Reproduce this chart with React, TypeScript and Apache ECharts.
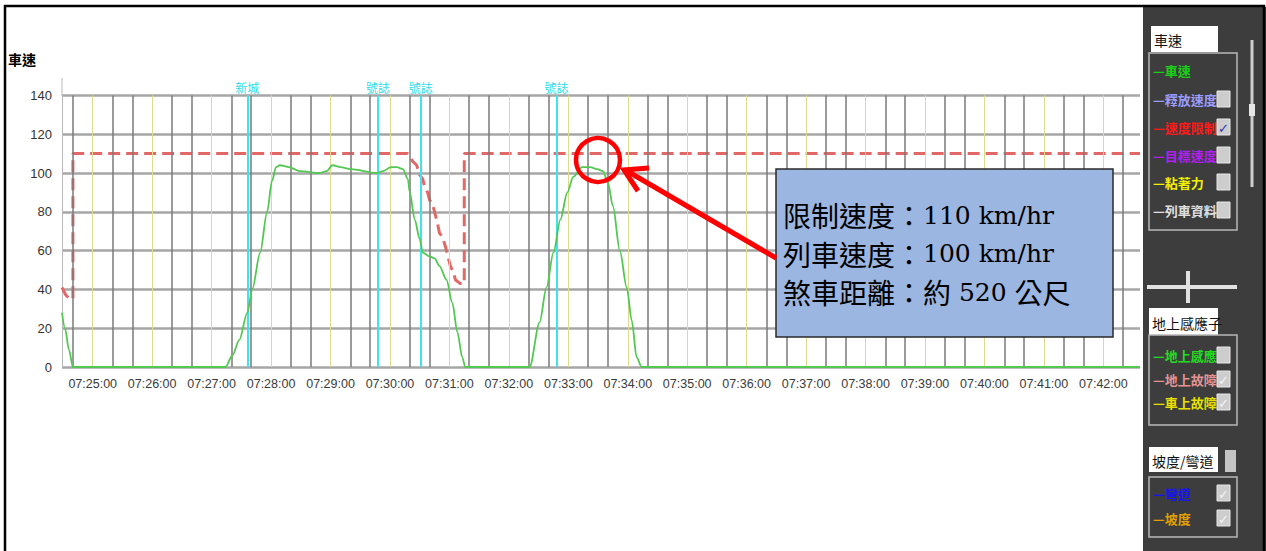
import React, { useEffect, useRef } from "react";
import * as echarts from "echarts";

// ---------- data ----------
const axisStart = "07:24:29";
const axisEnd = "07:42:37";
const gridStart = "07:24:40";
const gridStepSeconds = 20;
const xTickLabels = [
  "07:25:00", "07:26:00", "07:27:00", "07:28:00", "07:29:00", "07:30:00",
  "07:31:00", "07:32:00", "07:33:00", "07:34:00", "07:35:00", "07:36:00",
  "07:37:00", "07:38:00", "07:39:00", "07:40:00", "07:41:00", "07:42:00",
];
const yMin = 0;
const yMax = 140;
const yStep = 20;

// 車速 (train speed, km/h)
const trainSpeed: [string, number][] = [
  ["07:24:29", 28], ["07:24:32", 20], ["07:24:36", 9], ["07:24:40", 0],
  ["07:27:14", 0], ["07:27:21", 6], ["07:27:28", 14], ["07:27:36", 28],
  ["07:27:41", 40], ["07:27:49", 59], ["07:27:56", 80], ["07:28:01", 96],
  ["07:28:05", 103], ["07:28:09", 104], ["07:28:18", 103], ["07:28:29", 101],
  ["07:28:49", 100], ["07:28:56", 101], ["07:29:02", 104], ["07:29:10", 103],
  ["07:29:20", 102], ["07:29:47", 100], ["07:29:53", 101], ["07:30:01", 103],
  ["07:30:07", 103], ["07:30:13", 102], ["07:30:18", 97], ["07:30:20", 90],
  ["07:30:25", 76], ["07:30:30", 66], ["07:30:33", 59], ["07:30:40", 57],
  ["07:30:45", 56], ["07:30:50", 52], ["07:30:57", 45], ["07:31:03", 33],
  ["07:31:08", 18], ["07:31:13", 5], ["07:31:16", 0], ["07:32:21", 0],
  ["07:32:31", 23], ["07:32:38", 41], ["07:32:45", 59], ["07:32:52", 76],
  ["07:32:59", 90], ["07:33:05", 98], ["07:33:14", 103], ["07:33:22", 103],
  ["07:33:29", 102], ["07:33:35", 101], ["07:33:40", 95], ["07:33:45", 83],
  ["07:33:52", 60], ["07:33:59", 41], ["07:34:04", 24], ["07:34:09", 5],
  ["07:34:14", 0], ["07:42:37", 0],
];

// 速度限制 (speed limit, km/h)
const speedLimit: [string, number][] = [
  ["07:24:29", 41], ["07:24:33", 37], ["07:24:37", 35], ["07:24:40", 35],
  ["07:24:40", 110], ["07:30:18", 110], ["07:30:23", 106], ["07:30:27", 104],
  ["07:30:30", 99], ["07:30:33", 97], ["07:30:35", 93], ["07:30:38", 90],
  ["07:30:40", 86], ["07:30:43", 84], ["07:30:45", 80], ["07:30:48", 74],
  ["07:30:50", 69], ["07:30:53", 67], ["07:30:56", 62], ["07:30:58", 58],
  ["07:31:01", 52], ["07:31:04", 49], ["07:31:06", 45], ["07:31:11", 43],
  ["07:31:15", 43], ["07:31:15", 110], ["07:42:37", 110],
];

// cyan event markers
const markerTimes = ["07:27:36", "07:29:48", "07:30:31", "07:32:48"];
const markerNames = ["新城", "號誌", "號誌", "號誌"];

// annotation
const noteLines = ["限制速度：110 km/hr", "列車速度：100 km/hr", "煞車距離：約 520 公尺"];

// side panel
const panelTitle1 = "車速";
const panelSpeedItems = ["車速", "釋放速度", "速度限制", "目標速度", "粘著力", "列車資料"];
const panelSpeedChecked = [null, false, true, false, false, false];
const panelTitle2 = "地上感應子";
const panelBaliseItems = ["地上感應子", "地上故障", "車上故障"];
const panelBaliseChecked = [false, true, true];
const panelTitle3 = "坡度/彎道";
const panelGradeItems = ["彎道", "坡度"];
const panelGradeChecked = [true, true];
const yAxisTitle = "車速";

// ---------- helpers ----------
const toSec = (t: string) => {
  const [h, m, s] = t.split(":").map(Number);
  return h * 3600 + m * 60 + s;
};
const pad = (n: number) => String(n).padStart(2, "0");
const fmtSec = (v: number) => {
  const h = Math.floor(v / 3600);
  const m = Math.floor((v % 3600) / 60);
  const s = Math.round(v % 60);
  return `${pad(h)}:${pad(m)}:${pad(s)}`;
};
// split a string into CJK / Latin runs for rich text
const toRich = (s: string) =>
  (s.match(/[\u0000-\u007f]+|[^\u0000-\u007f]+/g) || [])
    .map((run) => (/^[\u0000-\u007f]+$/.test(run) ? `{l|${run}}` : `{c|${run}}`))
    .join("");

const LABEL_FONT = "'Liberation Sans', Arial, sans-serif";
const CJK = "'Noto Sans CJK TC', 'Noto Sans CJK SC', sans-serif";

export default function App() {
  const ref = useRef<HTMLDivElement>(null);

  useEffect(() => {
    if (!ref.current) return;
    const chart = echarts.init(ref.current, null, { renderer: "svg" });

    const xMin = toSec(axisStart);
    const xMax = toSec(axisEnd);
    const minuteValues = xTickLabels.map(toSec);
    const verticalGrid: number[] = [];
    for (let v = toSec(gridStart); v <= xMax; v += gridStepSeconds) verticalGrid.push(v);

    const speedData = trainSpeed.map(([t, v]) => [toSec(t), v]);
    const limitData = speedLimit.map(([t, v]) => [toSec(t), v]);

    // ---- panel graphics ----
    const panel: any[] = [];
    panel.push({ type: "rect", shape: { x: 1143, y: 7, width: 123, height: 544 }, style: { fill: "#3d3d3d" }, z: 100 });
    const titleBox = (x: number, y: number, w: number, h: number, text: string) => {
      panel.push({ type: "rect", shape: { x, y, width: w, height: h }, style: { fill: "#ffffff" }, z: 101 });
      panel.push({
        type: "text", x: x + 3, y: y + h / 2 + 1, z: 102,
        style: { text, fill: "#111", fontSize: 14, fontFamily: CJK, textVerticalAlign: "middle" },
      });
    };
    const frame = (x: number, y: number, w: number, h: number) => {
      panel.push({ type: "rect", shape: { x, y, width: w, height: h }, style: { fill: "none", stroke: "#b8b8b8", lineWidth: 1.5 }, z: 101 });
    };
    const item = (y: number, text: string, color: string, checked: boolean | null, checkColor: string) => {
      panel.push({
        type: "text", x: 1153, y, z: 102,
        style: { text: "—" + text, fill: color, fontSize: 13, fontWeight: "bold", fontFamily: CJK, textVerticalAlign: "middle" },
      });
      if (checked !== null) {
        panel.push({ type: "rect", shape: { x: 1217, y: y - 8, width: 13, height: 16 }, style: { fill: "#cdcdcd", stroke: "#e8e8e8", lineWidth: 1 }, z: 103 });
        if (checked) {
          panel.push({
            type: "text", x: 1223.5, y: y + 1, z: 104,
            style: { text: "✓", fill: checkColor, fontSize: 13, fontWeight: "bold", fontFamily: "'DejaVu Sans', sans-serif", textAlign: "center", textVerticalAlign: "middle" },
          });
        }
      }
    };
    const speedColors = ["#18d018", "#9a9cff", "#ff1a1a", "#b020f0", "#f0f000", "#e0e0e0"];
    titleBox(1151, 26, 67, 26, panelTitle1);
    frame(1149, 53, 88, 177);
    const speedYs = [70, 99, 127, 155, 182, 210];
    panelSpeedItems.forEach((t, i) =>
      item(speedYs[i], t, speedColors[i], panelSpeedChecked[i] as any, i === 2 ? "#1f3fb0" : "#eeeeee")
    );
    panel.push({ type: "line", shape: { x1: 1252, y1: 40, x2: 1252, y2: 187 }, style: { stroke: "#cfcfcf", lineWidth: 3 }, z: 101 });
    panel.push({ type: "rect", shape: { x: 1249, y: 104, width: 6, height: 12 }, style: { fill: "#e6e6e6" }, z: 101 });
    panel.push({ type: "line", shape: { x1: 1147, y1: 287, x2: 1237, y2: 287 }, style: { stroke: "#e2e2e2", lineWidth: 4 }, z: 101 });
    panel.push({ type: "line", shape: { x1: 1188, y1: 271, x2: 1188, y2: 303 }, style: { stroke: "#e2e2e2", lineWidth: 4 }, z: 101 });

    titleBox(1149, 308, 69, 27, panelTitle2);
    frame(1149, 335, 88, 90);
    const baliseColors = ["#22dd22", "#e49494", "#e8e000"];
    const baliseYs = [355, 379, 402];
    panelBaliseItems.forEach((t, i) => item(baliseYs[i], t, baliseColors[i], panelBaliseChecked[i], "#f4f4f4"));

    titleBox(1149, 447, 69, 25, panelTitle3);
    panel.push({ type: "rect", shape: { x: 1225, y: 450, width: 11, height: 22 }, style: { fill: "#c4c4c4" }, z: 101 });
    frame(1149, 477, 88, 60);
    const gradeColors = ["#1414f0", "#e0a000"];
    const gradeYs = [493, 518];
    panelGradeItems.forEach((t, i) => item(gradeYs[i], t, gradeColors[i], panelGradeChecked[i], "#f4f4f4"));

    // ---- annotation ----
    const annotation: any[] = [
      { type: "rect", shape: { x: 776, y: 169, width: 337, height: 168 }, style: { fill: "#9cb6e2", stroke: "#2a2a2a", lineWidth: 1.5 }, z: 110 },
      ...noteLines.map((t, i) => ({
        type: "text", x: 783, y: 215 + i * 38.5, z: 111,
        style: {
          text: toRich(t),
          fill: "#000",
          textVerticalAlign: "middle",
          rich: {
            c: { fontSize: 28, fontFamily: CJK, fill: "#000", lineHeight: 36 },
            l: { fontSize: 25, fontFamily: "'DejaVu Serif', serif", fill: "#000", lineHeight: 36 },
          },
        },
      })),
      { type: "circle", shape: { cx: 598, cy: 160, r: 22 }, style: { fill: "none", stroke: "#ff0000", lineWidth: 4.5 }, z: 112 },
      { type: "line", shape: { x1: 776, y1: 258, x2: 627, y2: 171 }, style: { stroke: "#ff0000", lineWidth: 5 }, z: 112 },
      { type: "polyline", shape: { points: [[649, 168], [624, 170], [638, 191]] }, style: { fill: "none", stroke: "#ff0000", lineWidth: 5 }, z: 112 },
    ];

    const option: any = {
      animation: false,
      backgroundColor: "#ffffff",
      grid: { left: 62, right: 126, top: 95.4, bottom: 184 },
      xAxis: {
        type: "value",
        min: xMin,
        max: xMax,
        axisLine: { show: false },
        axisTick: { show: false },
        splitLine: { show: false },
        axisLabel: {
          customValues: minuteValues,
          formatter: (v: number) => (v % 60 === 0 ? fmtSec(v) : ""),
          fontSize: 12.5,
          fontFamily: LABEL_FONT,
          color: "#3a3a3a",
          margin: 10,
        },
      },
      yAxis: {
        type: "value",
        min: yMin,
        max: yMax,
        interval: yStep,
        axisLine: { show: true, lineStyle: { color: "#b8b8b8", width: 1 } },
        axisTick: { show: false },
        splitLine: { show: true, lineStyle: { color: "#a6a6a6", width: 2.5 } },
        axisLabel: { fontSize: 13, fontFamily: LABEL_FONT, color: "#333", margin: 10 },
      },
      series: [
        {
          type: "line",
          name: "grid",
          data: [[xMin, 0]],
          symbol: "none",
          lineStyle: { width: 0 },
          silent: true,
          z: 2,
          markLine: {
            silent: true,
            symbol: "none",
            animation: false,
            label: { show: false },
            lineStyle: { type: "solid" },
            data: verticalGrid.map((v) => ({
              xAxis: v,
              lineStyle: v % 60 === 0
                ? { color: "#dcdc8c", width: 1, type: "solid" }
                : { color: "#7a7a7a", width: 1.5, type: "solid" },
            })),
          },
        },
        {
          type: "line",
          name: "markers",
          data: [[xMin, 0]],
          symbol: "none",
          lineStyle: { width: 0 },
          silent: true,
          z: 3,
          markLine: {
            silent: true,
            symbol: "none",
            animation: false,
            lineStyle: { type: "solid", color: "#3fe3f0", width: 2 },
            label: { show: true, position: "end", formatter: "{b}", color: "#2fdbe8", fontSize: 12, fontFamily: CJK, distance: 2 },
            data: markerTimes.map((t, i) => ({ xAxis: toSec(t), name: markerNames[i] })),
          },
        },
        {
          type: "line",
          name: "速度限制",
          data: limitData,
          symbol: "none",
          z: 4,
          lineStyle: { color: "#e26868", width: 3, type: [12, 6] },
        },
        {
          type: "line",
          name: "車速",
          data: speedData,
          symbol: "none",
          smooth: 0.3,
          smoothMonotone: "x",
          z: 5,
          lineStyle: { color: "#52c852", width: 1.8 },
        },
      ],
      graphic: {
        elements: [
          {
            type: "text", x: 8, y: 59, z: 50,
            style: { text: yAxisTitle, fill: "#000", fontSize: 14, fontWeight: "bold", fontFamily: CJK, textVerticalAlign: "middle" },
          },
          { type: "line", shape: { x1: 62, y1: 78, x2: 62, y2: 96 }, style: { stroke: "#b8b8b8", lineWidth: 1 }, z: 50 },
          ...panel,
          ...annotation,
          { type: "rect", shape: { x: 5, y: 6, width: 1259, height: 560 }, style: { fill: "none", stroke: "#000", lineWidth: 2.5 }, z: 120 },
        ],
      },
    };

    chart.setOption(option);
    return () => chart.dispose();
  }, []);

  return (
    <div
      ref={ref}
      style={{ position: "absolute", left: 0, top: 0, width: 1266, height: 551, background: "#fff" }}
    />
  );
}
